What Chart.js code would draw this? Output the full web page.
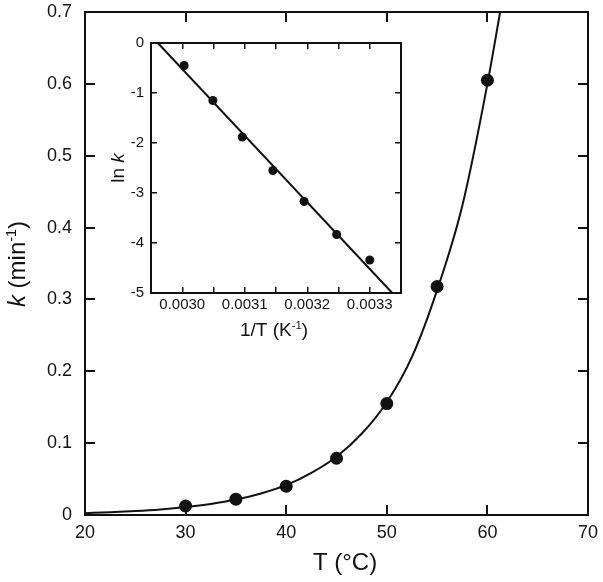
<!DOCTYPE html>
<html lang="en">
<head>
<meta charset="UTF-8">
<title>Rate constant vs temperature</title>
<script src="https://cdn.jsdelivr.net/npm/chart.js@4.4.1/dist/chart.umd.min.js"></script>
<style>
  html, body { margin: 0; padding: 0; background: #fff; }
  #wrap { position: relative; width: 603px; height: 582px; }
  #mainCanvas { position: absolute; left: 0; top: 0; }
  #insetCanvas { position: absolute; left: 100px; top: 28px; }
</style>
</head>
<body>
<div id="wrap">
  <canvas id="mainCanvas" width="603" height="582"></canvas>
  <canvas id="insetCanvas" width="310" height="322"></canvas>
</div>
<script>
// main plot: measured rate constants
const tempC = [30, 35, 40, 45, 50, 55, 60];
const rateK = [0.0125, 0.022, 0.040, 0.079, 0.155, 0.318, 0.605];
// fitted curve
const fitT = [20, 22.5, 25, 27.5, 30, 32.5, 35, 37.5, 40, 42.5, 45, 47.5, 50, 52.5, 55, 57.5, 60, 62];
const fitK = [0.0026, 0.0038, 0.0055, 0.0078, 0.0110, 0.0154, 0.0215, 0.0300, 0.0415, 0.0585, 0.0810, 0.1130, 0.1570, 0.2200, 0.3130, 0.4300, 0.6000, 0.7600];
const mainXTicks = [20, 30, 40, 50, 60, 70];
const mainXLabels = ['20', '30', '40', '50', '60', '70'];
const mainYTicks = [0, 0.1, 0.2, 0.3, 0.4, 0.5, 0.6, 0.7];
const mainYLabels = ['0', '0.1', '0.2', '0.3', '0.4', '0.5', '0.6', '0.7'];

// inset: Arrhenius plot
const invT = [0.003003, 0.003049, 0.003096, 0.003145, 0.003195, 0.003247, 0.003300];
const lnK = [-0.45, -1.15, -1.88, -2.55, -3.17, -3.83, -4.34];
const lineInvT = [0.002961, 0.003336];
const lineLnK = [0, -5];
const insetXTicks = [0.00295, 0.0030, 0.00305, 0.0031, 0.00315, 0.0032, 0.00325, 0.0033, 0.00335];
const insetXLabels = ['', '0.0030', '', '0.0031', '', '0.0032', '', '0.0033', ''];
const insetYTicks = [0, -1, -2, -3, -4, -5];
const insetYLabels = ['0', '-1', '-2', '-3', '-4', '-5'];

const FONT = "'Liberation Sans', Arial, Helvetica, sans-serif";
const INK = '#111';

function pts(xs, ys) {
  return xs.map((x, i) => ({ x: x, y: ys[i] }));
}

// draws a title made of pieces (italic / superscript), centred on cx, baseline at by
function drawRich(ctx, parts, cx, by, size, rotate) {
  ctx.save();
  ctx.fillStyle = INK;
  ctx.textBaseline = 'alphabetic';
  ctx.textAlign = 'left';
  const fontFor = p => (p.italic ? 'italic ' : '') + (p.sup ? size * 0.6 : size) + 'px ' + FONT;
  let total = 0;
  parts.forEach(p => { ctx.font = fontFor(p); total += ctx.measureText(p.t).width; });
  ctx.translate(cx, by);
  if (rotate) ctx.rotate(-Math.PI / 2);
  let x = -total / 2;
  parts.forEach(p => {
    ctx.font = fontFor(p);
    ctx.fillText(p.t, x, p.sup ? -size * 0.38 : 0);
    x += ctx.measureText(p.t).width;
  });
  ctx.restore();
}

function axis(pos, min, max, tickVals, labels, opts) {
  const horiz = pos === 'top' || pos === 'bottom';
  return {
    type: 'linear',
    position: pos,
    min: min,
    max: max,
    afterBuildTicks: s => { s.ticks = tickVals.map(v => ({ value: v })); },
    afterFit: s => {
      if (horiz) s.height = opts.size; else s.width = opts.size;
      // no extra room for label overhang, the layout padding handles it
      s.paddingTop = s.paddingBottom = s.paddingLeft = s.paddingRight = 0;
    },
    ticks: {
      display: !!labels,
      color: INK,
      padding: opts.pad || 0,
      font: { family: FONT, size: opts.font || 12 },
      maxRotation: 0,
      autoSkip: false,
      callback: (v, i) => (labels ? labels[i] : '')
    },
    grid: { drawOnChartArea: false, drawTicks: true, tickLength: -opts.tick, color: INK, lineWidth: opts.tw },
    border: { display: true, color: INK, width: 2 }
  };
}

// ---- main chart ----
new Chart(document.getElementById('mainCanvas'), {
  type: 'scatter',
  data: {
    datasets: [
      {
        data: pts(tempC, rateK),
        pointRadius: 6.5,
        pointBackgroundColor: INK,
        pointBorderWidth: 0,
        showLine: false
      },
      {
        data: pts(fitT, fitK),
        showLine: true,
        pointRadius: 0,
        borderColor: INK,
        borderWidth: 2,
        cubicInterpolationMode: 'monotone'
      }
    ]
  },
  options: {
    responsive: false,
    animation: false,
    layout: { autoPadding: false, padding: { top: 12, right: 15, left: 0, bottom: 0 } },
    plugins: { legend: { display: false }, tooltip: { enabled: false } },
    scales: {
      x: axis('bottom', 20, 70, mainXTicks, mainXLabels, { size: 67, pad: 17, font: 18, tick: 10, tw: 2 }),
      y: axis('left', 0, 0.7, mainYTicks, mainYLabels, { size: 85, pad: 23, font: 18, tick: 10, tw: 2 }),
      x2: axis('top', 20, 70, mainXTicks, null, { size: 0, tick: 10, tw: 2 }),
      y2: axis('right', 0, 0.7, mainYTicks, null, { size: 0, tick: 10, tw: 2 })
    }
  },
  plugins: [{
    id: 'mainTitles',
    afterDraw(chart) {
      const ctx = chart.ctx;
      drawRich(ctx, [{ t: 'T (°C)' }], 345, 570, 24, false);
      drawRich(ctx, [{ t: 'k', italic: true }, { t: ' (min' }, { t: '-1', sup: true }, { t: ')' }], 25, 264, 24, true);
    }
  }]
});

// ---- inset chart ----
new Chart(document.getElementById('insetCanvas'), {
  type: 'scatter',
  data: {
    datasets: [
      {
        data: pts(invT, lnK),
        pointRadius: 4.5,
        pointBackgroundColor: INK,
        pointBorderWidth: 0,
        showLine: false
      },
      {
        data: pts(lineInvT, lineLnK),
        showLine: true,
        pointRadius: 0,
        borderColor: INK,
        borderWidth: 2
      }
    ]
  },
  options: {
    responsive: false,
    animation: false,
    layout: { autoPadding: false, padding: { top: 15, right: 9, left: 0, bottom: 0 } },
    plugins: { legend: { display: false }, tooltip: { enabled: false } },
    scales: {
      x: axis('bottom', 0.00295, 0.00335, insetXTicks, insetXLabels, { size: 57, pad: 8.7, font: 15, tick: 6, tw: 1.5 }),
      y: axis('left', -5, 0, insetYTicks, insetYLabels, { size: 51, pad: 13, font: 15, tick: 6, tw: 1.5 }),
      x2: axis('top', 0.00295, 0.00335, insetXTicks, null, { size: 0, tick: 6, tw: 1.5 }),
      y2: axis('right', -5, 0, insetYTicks, null, { size: 0, tick: 6, tw: 1.5 })
    }
  },
  plugins: [{
    id: 'insetTitles',
    afterDraw(chart) {
      const ctx = chart.ctx;
      drawRich(ctx, [{ t: '1/T (K' }, { t: '-1', sup: true }, { t: ')' }], 174, 308, 19, false);
      drawRich(ctx, [{ t: 'ln ' }, { t: 'k', italic: true }], 24, 140, 19, true);
    }
  }]
});
</script>
</body>
</html>
